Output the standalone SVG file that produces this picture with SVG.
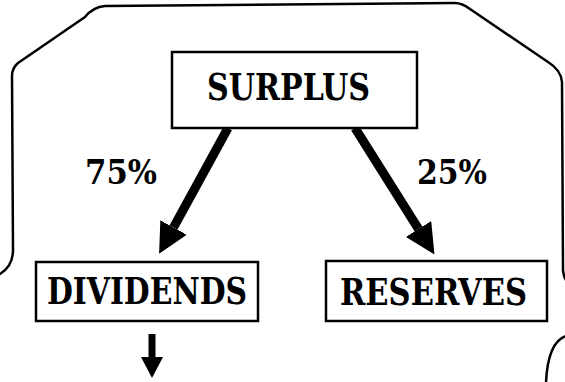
<svg xmlns="http://www.w3.org/2000/svg" width="565" height="382" viewBox="0 0 565 382">
<style>
.frame{fill:none;stroke:#000;stroke-width:2.5;stroke-linecap:round;stroke-linejoin:round}
.box{fill:#fff;stroke:#000;stroke-width:2.5}
.lbl{font-family:"DejaVu Serif","Liberation Serif",serif;font-stretch:condensed;font-weight:bold;font-size:37px;fill:#000}
.pct{font-family:"DejaVu Serif","Liberation Serif",serif;font-weight:bold;font-size:34px;fill:#000}
.big{fill:none;stroke:#000;stroke-width:9;marker-end:url(#head)}
.small{fill:none;stroke:#000;stroke-width:7;marker-end:url(#head2)}
</style>
<defs>
<marker id="head" viewBox="0 0 30 30" refX="0" refY="15" markerWidth="30" markerHeight="30" markerUnits="userSpaceOnUse" orient="auto">
<path d="M0,0 L30,15 L0,30 Z" fill="#000"/>
</marker>
<marker id="head2" viewBox="0 0 21 22" refX="0" refY="11" markerWidth="21" markerHeight="22" markerUnits="userSpaceOnUse" orient="auto">
<path d="M0,0 L21,11 L0,22 Z" fill="#000"/>
</marker>
</defs>
<rect width="565" height="382" fill="#fff"/>
<g id="frame">
<path class="frame" d="M0,274 Q13,266 13,250 L12,76 Q12,68 18,63 L85,17 Q93,7 105,6 L455,3 Q462,3 470,9 L548,62 Q561,70 562,82 L563,270 Q564,278 566,280"/>
<path class="frame" d="M566,336 Q548,342 546,382"/>
</g>
<g id="connectors">
<line class="big" x1="228" y1="128" x2="173.5" y2="227.5"/>
<line class="big" x1="355" y1="128" x2="418.5" y2="229"/>
<line class="small" x1="152" y1="334" x2="152" y2="357"/>
</g>
<g id="surplus">
<rect class="box" x="172" y="52" width="245" height="76"/>
<text class="lbl" x="207" y="100" textLength="163" lengthAdjust="spacingAndGlyphs">SURPLUS</text>
</g>
<g id="dividends">
<rect class="box" x="36" y="262" width="222" height="59"/>
<text class="lbl" x="47" y="304" textLength="200" lengthAdjust="spacingAndGlyphs">DIVIDENDS</text>
</g>
<g id="reserves">
<rect class="box" x="326" y="261" width="221" height="60"/>
<text class="lbl" x="340" y="305" textLength="187" lengthAdjust="spacingAndGlyphs">RESERVES</text>
</g>
<g id="labels">
<text class="pct" x="85" y="184" textLength="72" lengthAdjust="spacingAndGlyphs">75%</text>
<text class="pct" x="417" y="184" textLength="70" lengthAdjust="spacingAndGlyphs">25%</text>
</g>
</svg>
